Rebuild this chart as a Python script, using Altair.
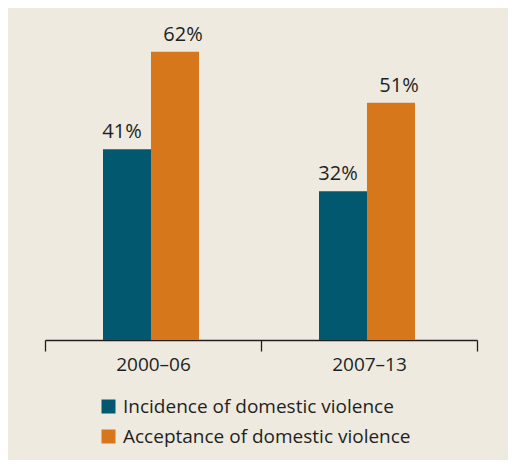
import altair as alt
import pandas as pd

periods = ["2000–06", "2000–06", "2007–13", "2007–13"]
series = ["Incidence of domestic violence", "Acceptance of domestic violence",
          "Incidence of domestic violence", "Acceptance of domestic violence"]
values = [41, 62, 32, 51]
labels = ["41%", "62%", "32%", "51%"]

series_order = ["Incidence of domestic violence", "Acceptance of domestic violence"]
colors = ["#02586e", "#d7771b"]
label_dx = [-5, 8]

df = pd.DataFrame({"period": periods, "series": series, "value": values, "label": labels})

FONT = "Open Sans"
INK = "#231f20"

x = alt.X("period:N", title=None,
          scale=alt.Scale(paddingInner=0, paddingOuter=0),
          axis=alt.Axis(labelAngle=0, tickBand="extent", tickSize=11, tickWidth=1.3,
                        tickColor=INK, domainColor=INK, domainWidth=1.3,
                        labelFont=FONT, labelFontSize=19, labelColor=INK,
                        labelPadding=4, grid=False))
xoff = alt.XOffset("series:N", sort=series_order,
                   scale=alt.Scale(paddingInner=0, paddingOuter=0, range=[58, 154]))
y = alt.Y("value:Q", scale=alt.Scale(domain=[0, 68.8]), axis=None)

bars = alt.Chart(df).mark_bar().encode(
    x=x, xOffset=xoff, y=y,
    color=alt.Color("series:N", sort=series_order,
                    scale=alt.Scale(domain=series_order, range=colors),
                    legend=alt.Legend(title=None, orient="none", legendX=54, legendY=377,
                                      symbolType="square", symbolSize=196,
                                      symbolStrokeWidth=0, labelFont=FONT,
                                      labelFontSize=19, labelColor=INK,
                                      labelOffset=5, rowPadding=10, padding=0,
                                      labelLimit=400)),
)

layers = [bars]
for s, d in zip(series_order, label_dx):
    layers.append(
        alt.Chart(df).transform_filter(alt.datum.series == s)
        .mark_text(font=FONT, fontSize=20, color=INK, baseline="alphabetic", dy=-11, dx=d)
        .encode(x=x, xOffset=xoff, y=y, text="label:N")
    )

chart = alt.layer(*layers).properties(
    width=432, height=320,
    autosize=alt.AutoSizeParams(type="none"),
    padding={"left": 37, "top": 12, "right": 31, "bottom": 120},
    background="#eeeae0",
).configure_view(strokeWidth=0)

chart.save("out.html", embed_options={"renderer": "svg", "actions": False})
